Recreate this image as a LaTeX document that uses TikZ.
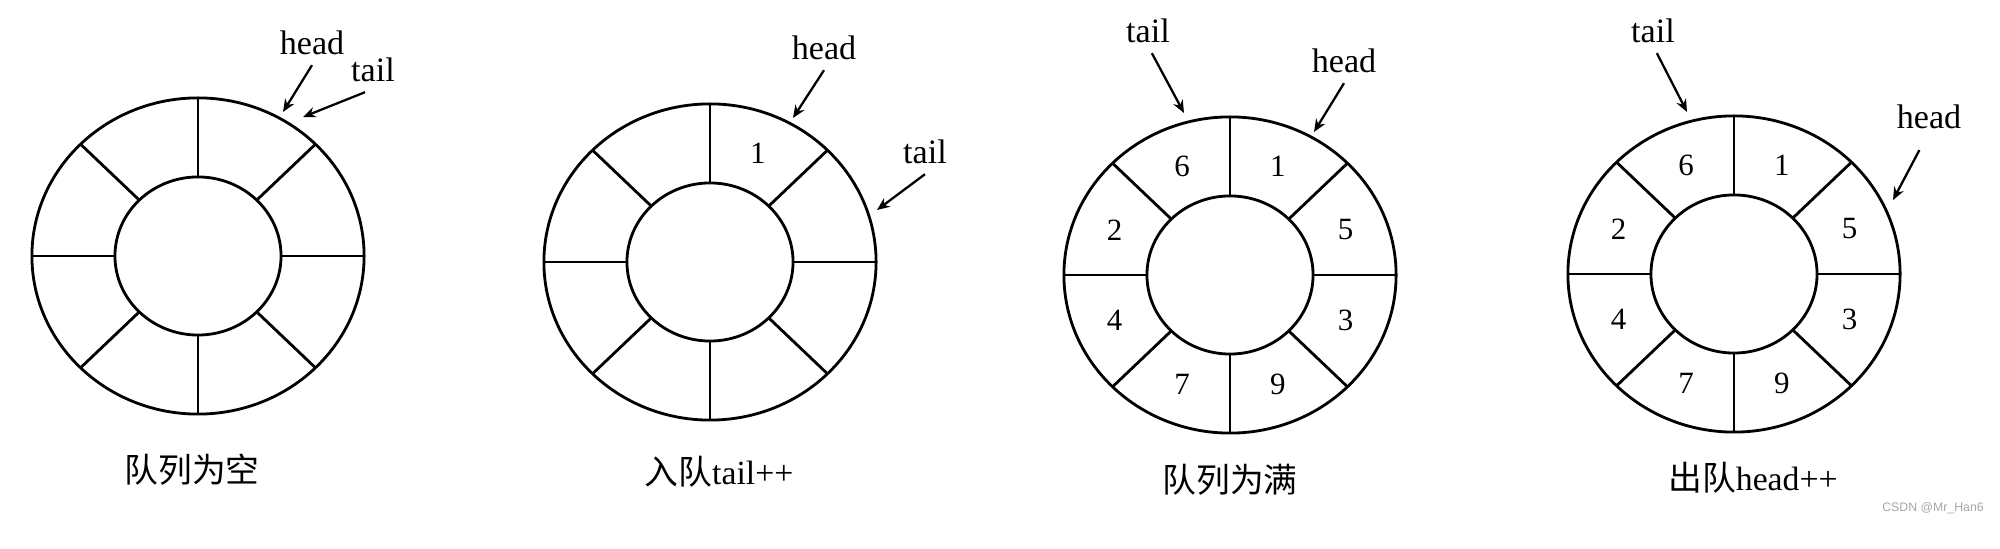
\documentclass[tikz,border=0pt]{standalone}
\usepackage{fontspec}
\setmainfont{Liberation Serif}
\newfontfamily\cjk{Noto Sans CJK SC}
\newfontfamily\wmfont{Liberation Sans}
\usetikzlibrary{calc,positioning,arrows.meta}

\begin{document}
\begin{tikzpicture}[x=0.01cm, y=-0.01cm,
        ring/.style={line width=0.8pt},
        ptr/.style={-{Stealth[length=3.6pt,width=3pt]}, line width=0.65pt},
        lbl/.style={font=\fontsize{9.7}{11}\selectfont, inner sep=0pt, outer sep=2.8pt, anchor=base},
        num/.style={font=\fontsize{8.8}{10}\selectfont, inner sep=0pt},
        captxt/.style={font=\fontsize{9.6}{11}\selectfont, inner sep=0pt}]
        \useasboundingbox (0,0) rectangle (2000,549);

        \coordinate (q1) at (198,256);
        \coordinate (q2) at (710,262);
        \coordinate (q3) at (1230,275);
        \coordinate (q4) at (1734,274);

        \foreach \q in {q1,q2,q3,q4}{
            \draw[ring] (\q) ellipse [x radius=1.66cm, y radius=1.58cm];
            \draw[ring] (\q) ellipse [x radius=0.83cm, y radius=0.79cm];
            \foreach \a in {0,45,...,315}
                \draw[ring] ($(\q)+(\a:83 and 79)$) -- ($(\q)+(\a:166 and 158)$);
        }

        \node[num] (n21) at ($(q2)+(-67.5:125 and 118)$) {1};
        \foreach \a/\d in {-67.5/1,-22.5/5,22.5/3,67.5/9,112.5/7,157.5/4,-157.5/2,-112.5/6}{
            \node[num] (n3\d) at ($(q3)+(\a:125 and 118)$) {\d};
            \node[num] (n4\d) at ($(q4)+(\a:125 and 118)$) {\d};
        }

        \node[lbl] (hd1) at (312,55) {head};
        \node[lbl] (tl1) at (373,82) {tail};
        \node[lbl] (hd2) at (824,60) {head};
        \node[lbl] (tl2) at (925,164) {tail};
        \node[lbl] (tl3) at (1148,43) {tail};
        \node[lbl] (hd3) at (1344,73) {head};
        \node[lbl] (tl4) at (1653,43) {tail};
        \node[lbl] (hd4) at (1929,129) {head};

        \coordinate (hp1) at (283,112);
        \coordinate (tp1) at (303,117);
        \coordinate (hp2) at (793,118);
        \coordinate (tp2) at (877,210);
        \coordinate (tp3) at (1184,113);
        \coordinate (hp3) at (1314,132);
        \coordinate (tp4) at (1687,112);
        \coordinate (hp4) at (1893,200);

        \draw[ptr] (hd1.south) -- (hp1);
        \draw[ptr] (tl1.-110) -- (tp1);
        \draw[ptr] (hd2.south) -- (hp2);
        \draw[ptr] (tl2.south) -- (tp2);
        \draw[ptr] (tl3.-80) -- (tp3);
        \draw[ptr] (hd3.south) -- (hp3);
        \draw[ptr] (tl4.-80) -- (tp4);
        \draw[ptr, shorten <=3.5pt] (hd4.-100) -- (hp4);

        \node[captxt] (c1) at (192,470) {\cjk 队列为空};
        \node[captxt] (c2) at (719,472) {{\cjk 入队}tail++};
        \node[captxt] (c3) at (1230,480) {\cjk 队列为满};
        \node[captxt] (c4) at (1753,478) {{\cjk 出队}head++};

        \node[font=\wmfont\fontsize{3.5}{4}\selectfont, text=gray!70, inner sep=0pt] (wm) at (1933,508) {CSDN @Mr\_Han6};
    \end{tikzpicture}
\end{document}
